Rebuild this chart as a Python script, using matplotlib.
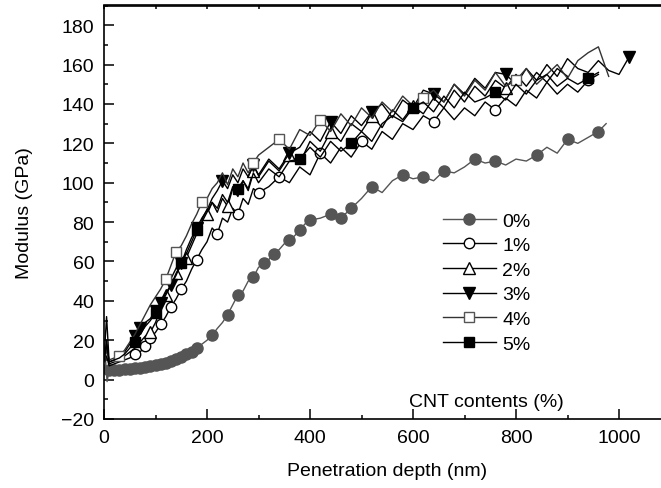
import matplotlib
matplotlib.use("Agg")
import matplotlib.pyplot as plt
from matplotlib.ticker import MultipleLocator

plt.rcParams['font.family'] = ['Liberation Sans', 'DejaVu Sans']

## DATA
# depth grid shared by the CNT-filled samples (nm)
depth = [0, 5, 10, 20, 30, 40, 50, 60, 70, 80, 90, 100, 110, 120, 130, 140, 150,
         160, 170, 180, 190, 200, 210, 220, 230, 240, 250, 260, 270, 280, 290, 300,
         320, 340, 360, 380, 400, 420, 440, 460, 480, 500, 520, 540, 560, 580, 600,
         620, 640, 660, 680, 700, 720, 740, 760, 780, 800, 820, 840, 860, 880, 900,
         920, 940, 960, 980, 1000, 1020]

mod_1 = [8, 12, 7, 8, 9, 10, 11, 13, 14, 17, 21, 24, 28, 32, 37, 41, 46, 50, 56, 61,
         66, 70, 77, 74, 82, 80, 87, 84, 92, 89, 97, 95, 98, 103, 100, 108, 104, 115,
         110, 118, 113, 121, 117, 126, 122, 130, 127, 134, 131, 138, 132, 138, 134, 141,
         137, 143, 139, 147, 143, 151, 145, 150, 146, 152, 155]
mod_2 = [9, 20, 8, 9, 10, 12, 14, 16, 19, 22, 24, 29, 36, 43, 48, 54, 58, 62, 68, 74,
         80, 84, 90, 85, 92, 88, 97, 93, 101, 97, 106, 103, 111, 106, 114, 110, 121, 116,
         126, 121, 130, 126, 134, 128, 137, 132, 139, 135, 143, 138, 147, 141, 149, 144,
         152, 148, 155, 149, 156, 151, 158, 154]
mod_3 = [10, 32, 9, 10, 12, 14, 18, 22, 26, 29, 31, 35, 39, 44, 48, 54, 59, 66, 72, 77,
         82, 86, 92, 96, 101, 97, 104, 100, 107, 103, 109, 104, 112, 107, 115, 118, 126,
         121, 131, 125, 134, 129, 136, 140, 133, 142, 138, 147, 145, 141, 150, 145, 153,
         148, 156, 155, 150, 158, 152, 160, 154, 163, 158, 156, 162, 157, 155, 164]
mod_4 = [8, 15, 10, 11, 12, 15, 19, 23, 28, 33, 38, 42, 46, 51, 58, 65, 68, 73, 79, 84,
         90, 92, 97, 100, 105, 99, 107, 103, 110, 105, 110, 114, 118, 122, 117, 127, 124,
         132, 126, 135, 129, 138, 133, 141, 136, 144, 139, 143, 147, 141, 150, 144, 152,
         147, 156, 149, 152, 158, 150, 155, 160, 153, 162, 166, 169, 154]
mod_5 = [9, 18, 9, 10, 11, 13, 16, 19, 23, 27, 30, 34, 38, 43, 48, 53, 59, 64, 70, 76,
         80, 85, 90, 87, 94, 90, 98, 97, 101, 96, 105, 100, 107, 103, 111, 112, 118, 113,
         121, 116, 120, 126, 121, 130, 134, 131, 138, 141, 136, 144, 138, 146, 141, 143,
         146, 142, 150, 145, 152, 155, 149, 153, 150, 153, 156]

# pure matrix (0 %) has its own depth grid
depth_0 = [0, 3, 6, 10, 20, 30, 40, 50, 60, 70, 80, 90, 100, 110, 120, 130, 140, 150,
           160, 170, 180, 190, 200, 210, 220, 230, 240, 250, 260, 270, 280, 290, 300,
           310, 320, 330, 340, 350, 360, 370, 380, 390, 400, 420, 440, 460, 480, 500,
           520, 540, 560, 580, 600, 620, 640, 660, 680, 700, 720, 740, 760, 780, 800,
           820, 840, 860, 880, 900, 920, 940, 960, 975]
mod_0 = [3, 10, -1, 5, 5, 5, 5.5, 5.5, 6, 6, 6.5, 7, 7.5, 8, 8.5, 9.5, 10.5, 11.5, 13,
         14, 16, 18, 20, 22.5, 26, 29, 33, 38, 43, 45, 50, 52, 57, 59, 61, 64, 66, 69,
         71, 73, 76, 79, 81, 82, 84, 82, 87, 92, 98, 95, 101, 104, 102, 103, 101, 106,
         105, 108, 112, 110, 111, 109, 112, 111, 114, 118, 115, 122, 120, 123, 126, 130]

# data points that carry a symbol
marks_0 = list(range(3, 21)) + [23, 26, 28, 31, 33, 35, 38, 40, 42, 44, 45, 46, 48,
                                51, 53, 55, 58, 60, 64, 67, 70]
marks_1 = [7, 9, 10, 12, 14, 16, 19, 23, 27, 31, 33, 37, 41, 48, 54, 63]
marks_2 = [10, 13, 15, 17, 21, 25, 30, 34, 38, 42, 46, 55]
marks_3 = [7, 8, 11, 12, 14, 16, 19, 24, 30, 34, 38, 42, 48, 55, 67]
marks_4 = [4, 13, 15, 20, 30, 33, 37, 47, 56]
marks_5 = [7, 11, 16, 19, 27, 35, 40, 46, 54, 63]

labels = ['0%', '1%', '2%', '3%', '4%', '5%']

## PLOT
fig = plt.figure(figsize=(6.61, 4.89), dpi=100)
ax = fig.add_axes([104/661, 69/489, 566.5/661, 413.5/489])

grey = '#555555'
ax.plot(depth_0, mod_0, color=grey, lw=1.0, marker='o', ms=8, mfc=grey, mec=grey,
        markevery=marks_0, label=labels[0], zorder=2)
ax.plot(depth[:len(mod_1)], mod_1, color='black', lw=1.0, marker='o', ms=7.5, mfc='white',
        mec='black', markevery=marks_1, label=labels[1], zorder=3)
ax.plot(depth[:len(mod_2)], mod_2, color='black', lw=1.0, marker='^', ms=8, mfc='white',
        mec='black', markevery=marks_2, label=labels[2], zorder=3)
ax.plot(depth[:len(mod_3)], mod_3, color='black', lw=1.0, marker='v', ms=8, mfc='black',
        mec='black', markevery=marks_3, label=labels[3], zorder=3)
ax.plot(depth[:len(mod_4)], mod_4, color='#333333', lw=1.0, marker='s', ms=7, mfc='white',
        mec=grey, markevery=marks_4, label=labels[4], zorder=3)
ax.plot(depth[:len(mod_5)], mod_5, color='black', lw=1.0, marker='s', ms=7, mfc='black',
        mec='black', markevery=marks_5, label=labels[5], zorder=3)

ax.set_xlim(0, 1100)
ax.set_ylim(-20, 190)
ax.xaxis.set_major_locator(MultipleLocator(200))
ax.xaxis.set_minor_locator(MultipleLocator(100))
ax.yaxis.set_major_locator(MultipleLocator(20))
ax.yaxis.set_minor_locator(MultipleLocator(10))
ax.tick_params(which='major', direction='in', length=7, width=1.1, labelsize=14, pad=7)
ax.tick_params(which='minor', direction='in', length=3, width=1.1)
ax.set_yticks(range(-20, 181, 20))
ax.set_yticklabels(['\u221220'] + [str(v) for v in range(0, 181, 20)])

top = ax.secondary_xaxis('top')
top.xaxis.set_major_locator(MultipleLocator(100))
top.tick_params(direction='in', length=3, width=1.1)
top.set_xticklabels([])

for s in ax.spines.values():
    s.set_linewidth(1.2)
top.spines['top'].set_linewidth(1.2)

ax.set_xlabel('Penetration depth (nm)', fontsize=14, labelpad=12)
ax.set_ylabel('Modulus (GPa)', fontsize=14, labelpad=20)

leg = ax.legend(loc='upper left', bbox_to_anchor=(443/661, 1 - 213/489),
                bbox_transform=fig.transFigure, frameon=False, fontsize=14,
                handlelength=2.7, handletextpad=0.35, labelspacing=0.36,
                borderpad=0, borderaxespad=0)
ax.text(893, -11.2, 'CNT contents (%)', fontsize=14, ha='right', va='center')

fig.savefig('out.png', dpi=100)
